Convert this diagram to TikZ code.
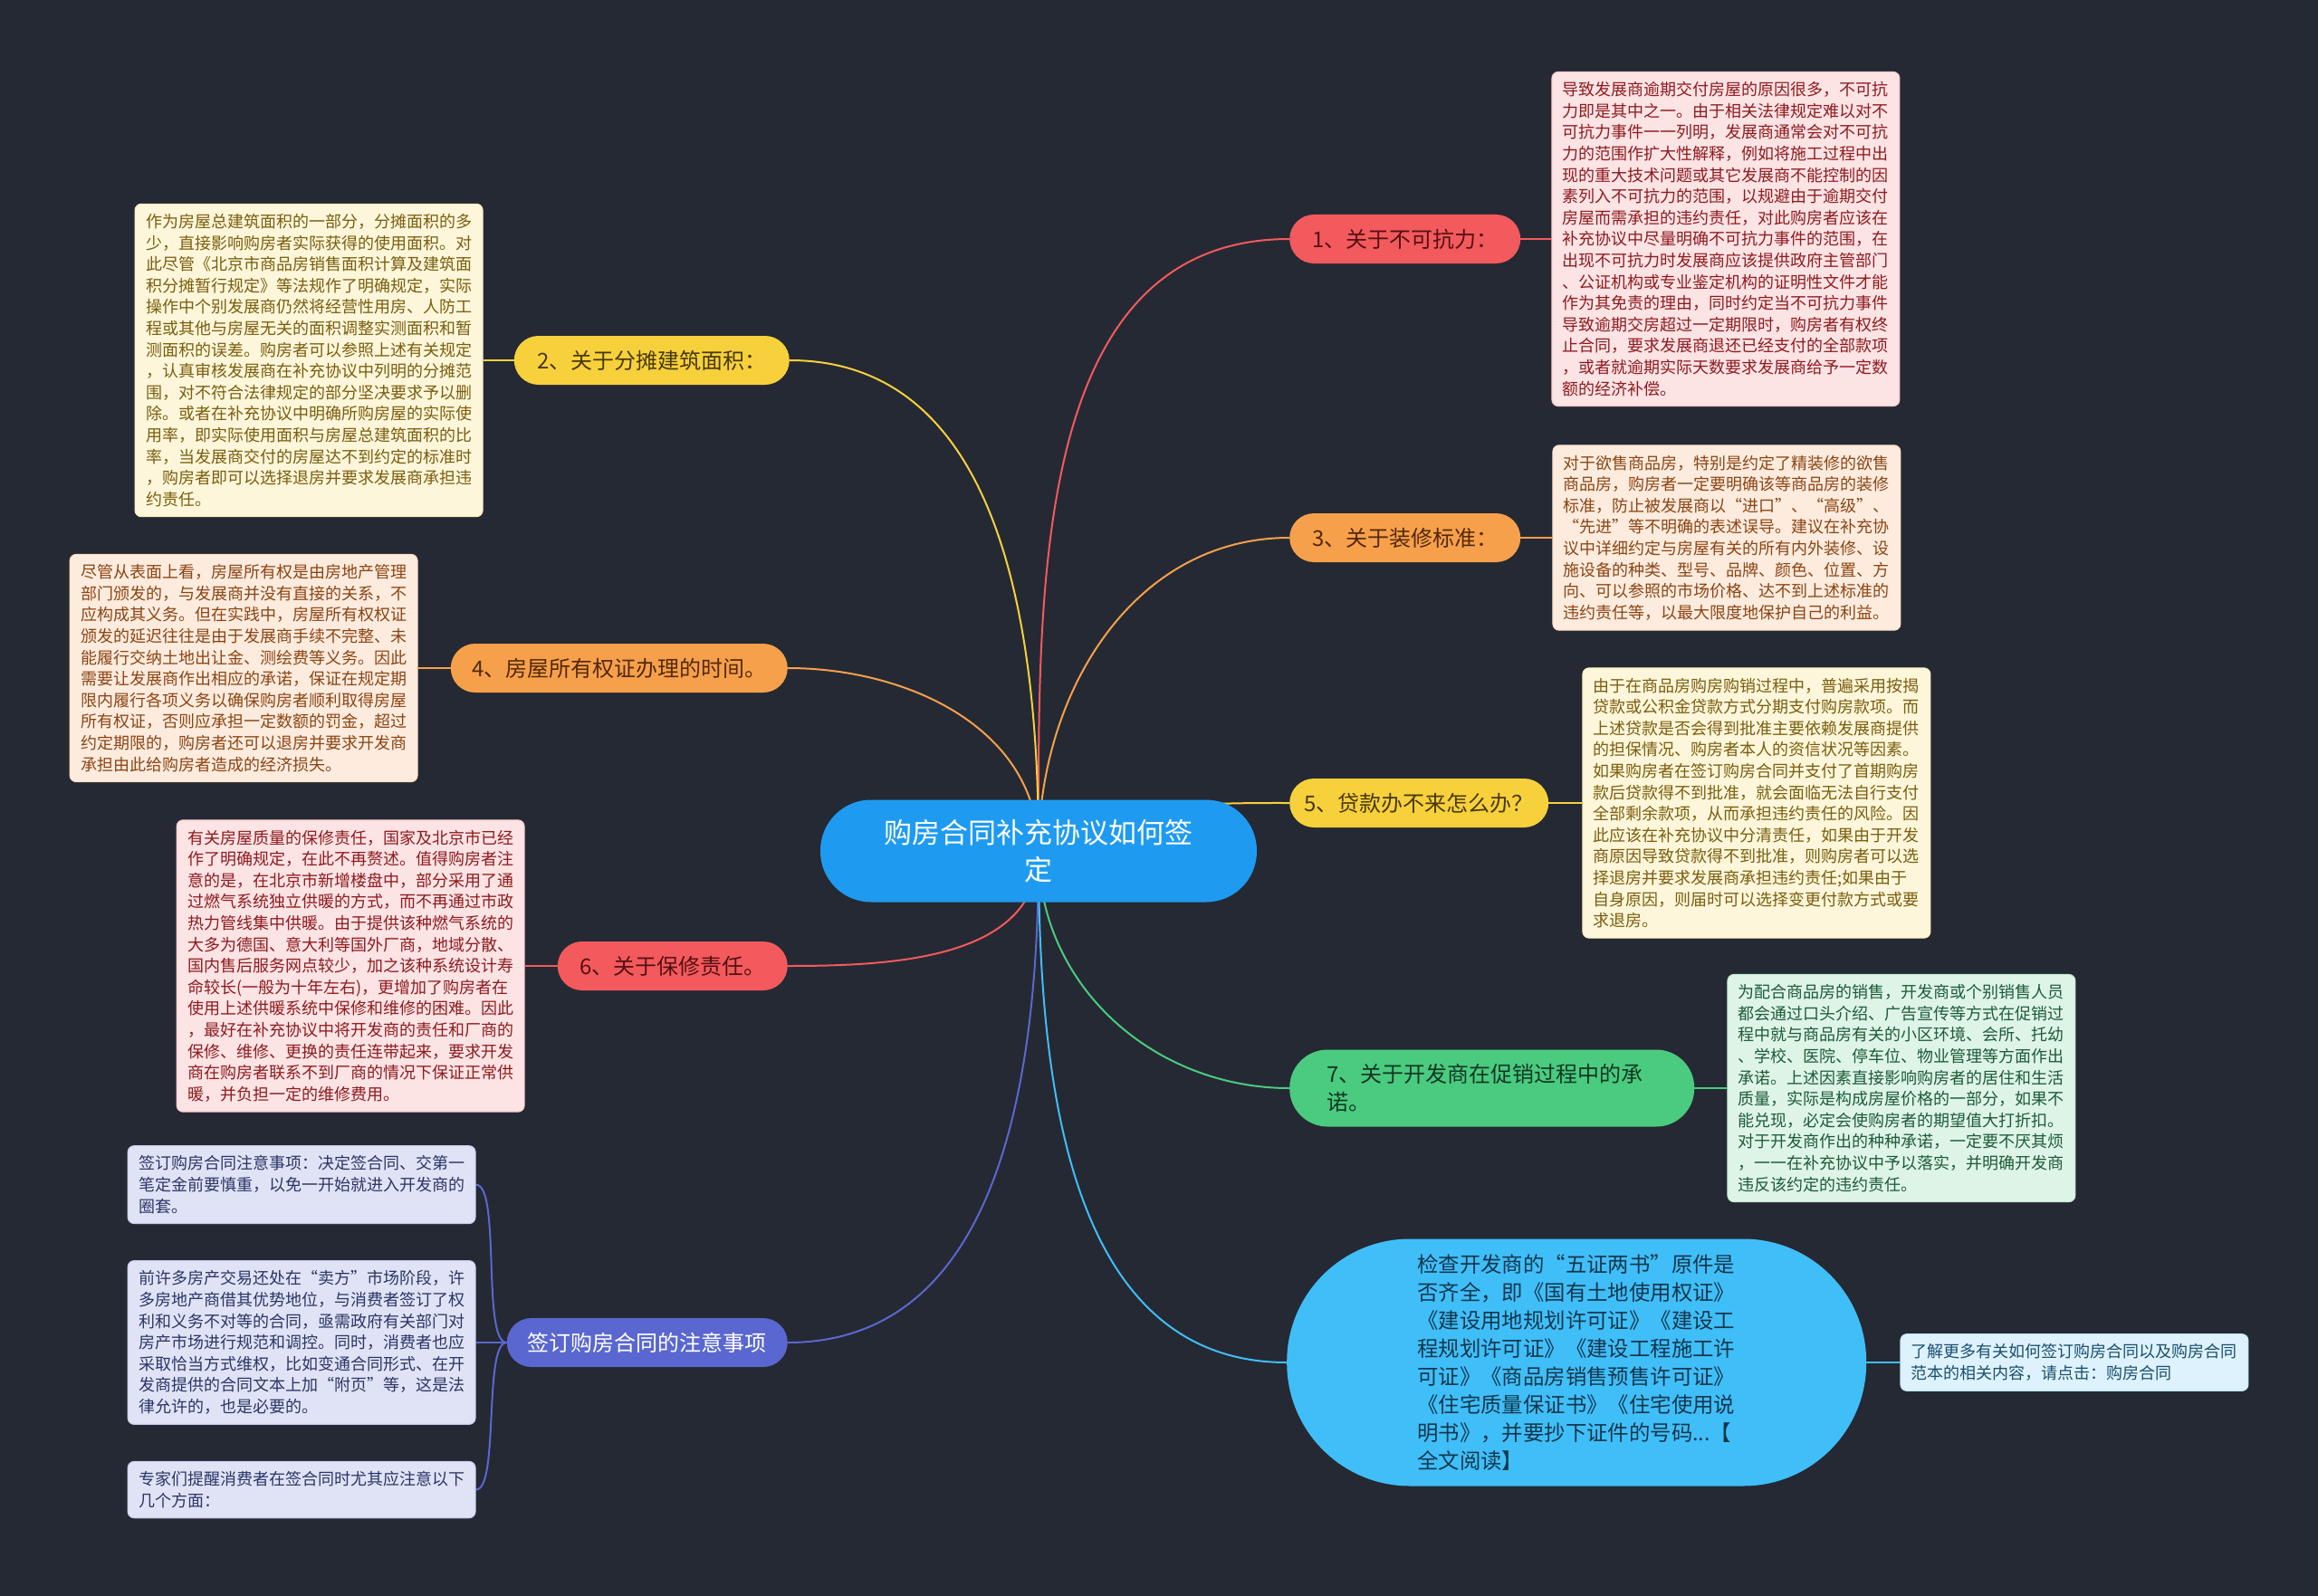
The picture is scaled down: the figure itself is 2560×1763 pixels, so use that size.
\documentclass[tikz,border=0pt]{standalone}
\usepackage{fontspec}
\setmainfont{Noto Sans CJK SC}
\usetikzlibrary{positioning,backgrounds}

\definecolor{bgdark}{HTML}{252933}
\definecolor{topiccol}{HTML}{1E9BF0}
\definecolor{redcol}{HTML}{F35A5D}
\definecolor{yellowcol}{HTML}{F7D13C}
\definecolor{orangecol}{HTML}{F7A04C}
\definecolor{greencol}{HTML}{4ACB80}
\definecolor{indigocol}{HTML}{5A67D0}
\definecolor{skycol}{HTML}{40BEF8}
\definecolor{redleaf}{HTML}{FCE3E4}
\definecolor{redink}{HTML}{8E1B1F}
\definecolor{yellowleaf}{HTML}{FDF6DA}
\definecolor{yellowink}{HTML}{7A5E0F}
\definecolor{orangeleaf}{HTML}{FDEBDE}
\definecolor{orangeink}{HTML}{8B4513}
\definecolor{greenleaf}{HTML}{DDF4E6}
\definecolor{greenink}{HTML}{1E5B38}
\definecolor{indigoleaf}{HTML}{DFE3F5}
\definecolor{indigoink}{HTML}{2C3566}
\definecolor{skyleaf}{HTML}{DDF2FC}
\definecolor{skyink}{HTML}{1B4F6E}

\begin{document}
\begin{tikzpicture}[
  x=1pt, y=-1pt,
  node distance=34pt,
  topic/.style={
    rounded corners=56pt,
    fill=topiccol,
    text=white,
    align=center,
    minimum width=482pt,
    minimum height=113pt,
    font=\fontsize{31}{41}\selectfont
  },
  branch/.style={
    rounded corners=27pt,
    minimum height=54pt,
    inner xsep=8pt,
    align=center,
    font=\fontsize{24}{31}\selectfont
  },
  leaf/.style={
    rounded corners=7pt,
    line width=1pt,
    inner xsep=12pt,
    inner ysep=11pt,
    text width=360pt,
    align=left,
    font=\fontsize{18}{23.6}\selectfont
  },
  link/.style={line width=2pt}
]
  \useasboundingbox (0,0) rectangle (2560,1763);

  \node[topic] (root) at (1147,940) {购房合同补充协议如何签\\定};

  % branches
  \node[branch, anchor=west, fill=redcol, text=redink!60!black, minimum width=255pt] (force) at (1424,264) {1、关于不可抗力：};
  \node[branch, anchor=east, fill=yellowcol, text=yellowink!60!black, minimum width=304pt] (area) at (872,398) {2、关于分摊建筑面积：};
  \node[branch, anchor=west, fill=orangecol, text=orangeink!60!black, minimum width=255pt] (decor) at (1424,594) {3、关于装修标准：};
  \node[branch, anchor=east, fill=orangecol, text=orangeink!60!black, minimum width=372pt] (deed) at (870,738) {4、房屋所有权证办理的时间。};
  \node[branch, anchor=west, fill=yellowcol, text=yellowink!60!black, minimum width=286pt] (loan) at (1424,887) {5、贷款办不来怎么办？};
  \node[branch, anchor=east, fill=redcol, text=redink!60!black, minimum width=254pt] (repair) at (870,1067) {6、关于保修责任。};
  \node[branch, anchor=west, fill=greencol, text=greenink!60!black, rounded corners=42pt,
        minimum width=447pt, minimum height=85pt, inner xsep=41pt, text width=365pt, align=left] (promise) at (1424,1202) {7、关于开发商在促销过程中的承\\诺。};
  \node[branch, anchor=east, fill=indigocol, text=white, minimum width=310pt] (sign) at (870,1483) {签订购房合同的注意事项};
  \node[branch, anchor=west, fill=skycol, text=skyink!70!black, rounded corners=136pt,
        minimum width=640pt, minimum height=273pt, text width=352pt, align=left,
        font=\fontsize{23.4}{31}\selectfont] (check) at (1421,1505) {检查开发商的“五证两书”原件是\\否齐全，即《国有土地使用权证》\\《建设用地规划许可证》《建设工\\程规划许可证》《建设工程施工许\\可证》《商品房销售预售许可证》\\《住宅质量保证书》《住宅使用说\\明书》，并要抄下证件的号码...【\\全文阅读】};

  % leaves
  \node[leaf, right=of force, fill=redleaf, text=redink, draw=redcol!35] (forcetxt) {导致发展商逾期交付房屋的原因很多，不可抗\\力即是其中之一。由于相关法律规定难以对不\\可抗力事件一一列明，发展商通常会对不可抗\\力的范围作扩大性解释，例如将施工过程中出\\现的重大技术问题或其它发展商不能控制的因\\素列入不可抗力的范围，以规避由于逾期交付\\房屋而需承担的违约责任，对此购房者应该在\\补充协议中尽量明确不可抗力事件的范围，在\\出现不可抗力时发展商应该提供政府主管部门\\、公证机构或专业鉴定机构的证明性文件才能\\作为其免责的理由，同时约定当不可抗力事件\\导致逾期交房超过一定期限时，购房者有权终\\止合同，要求发展商退还已经支付的全部款项\\，或者就逾期实际天数要求发展商给予一定数\\额的经济补偿。};
  \node[leaf, left=of area, fill=yellowleaf, text=yellowink, draw=yellowcol!35] (areatxt) {作为房屋总建筑面积的一部分，分摊面积的多\\少，直接影响购房者实际获得的使用面积。对\\此尽管《北京市商品房销售面积计算及建筑面\\积分摊暂行规定》等法规作了明确规定，实际\\操作中个别发展商仍然将经营性用房、人防工\\程或其他与房屋无关的面积调整实测面积和暂\\测面积的误差。购房者可以参照上述有关规定\\，认真审核发展商在补充协议中列明的分摊范\\围，对不符合法律规定的部分坚决要求予以删\\除。或者在补充协议中明确所购房屋的实际使\\用率，即实际使用面积与房屋总建筑面积的比\\率，当发展商交付的房屋达不到约定的标准时\\，购房者即可以选择退房并要求发展商承担违\\约责任。};
  \node[leaf, right=35pt of decor, fill=orangeleaf, text=orangeink, draw=orangecol!35] (decortxt) {对于欲售商品房，特别是约定了精装修的欲售\\商品房，购房者一定要明确该等商品房的装修\\标准，防止被发展商以“进口”、“高级”、\\“先进”等不明确的表述误导。建议在补充协\\议中详细约定与房屋有关的所有内外装修、设\\施设备的种类、型号、品牌、颜色、位置、方\\向、可以参照的市场价格、达不到上述标准的\\违约责任等，以最大限度地保护自己的利益。};
  \node[leaf, left=36pt of deed, fill=orangeleaf, text=orangeink, draw=orangecol!35] (deedtxt) {尽管从表面上看，房屋所有权是由房地产管理\\部门颁发的，与发展商并没有直接的关系，不\\应构成其义务。但在实践中，房屋所有权权证\\颁发的延迟往往是由于发展商手续不完整、未\\能履行交纳土地出让金、测绘费等义务。因此\\需要让发展商作出相应的承诺，保证在规定期\\限内履行各项义务以确保购房者顺利取得房屋\\所有权证，否则应承担一定数额的罚金，超过\\约定期限的，购房者还可以退房并要求开发商\\承担由此给购房者造成的经济损失。};
  \node[leaf, right=37pt of loan, fill=yellowleaf, text=yellowink, draw=yellowcol!35] (loantxt) {由于在商品房购房购销过程中，普遍采用按揭\\贷款或公积金贷款方式分期支付购房款项。而\\上述贷款是否会得到批准主要依赖发展商提供\\的担保情况、购房者本人的资信状况等因素。\\如果购房者在签订购房合同并支付了首期购房\\款后贷款得不到批准，就会面临无法自行支付\\全部剩余款项，从而承担违约责任的风险。因\\此应该在补充协议中分清责任，如果由于开发\\商原因导致贷款得不到批准，则购房者可以选\\择退房并要求发展商承担违约责任;如果由于\\自身原因，则届时可以选择变更付款方式或要\\求退房。};
  \node[leaf, left=36pt of repair, fill=redleaf, text=redink, draw=redcol!35] (repairtxt) {有关房屋质量的保修责任，国家及北京市已经\\作了明确规定，在此不再赘述。值得购房者注\\意的是，在北京市新增楼盘中，部分采用了通\\过燃气系统独立供暖的方式，而不再通过市政\\热力管线集中供暖。由于提供该种燃气系统的\\大多为德国、意大利等国外厂商，地域分散、\\国内售后服务网点较少，加之该种系统设计寿\\命较长(一般为十年左右)，更增加了购房者在\\使用上述供暖系统中保修和维修的困难。因此\\，最好在补充协议中将开发商的责任和厂商的\\保修、维修、更换的责任连带起来，要求开发\\商在购房者联系不到厂商的情况下保证正常供\\暖，并负担一定的维修费用。};
  \node[leaf, right=36pt of promise, fill=greenleaf, text=greenink, draw=greencol!35] (promisetxt) {为配合商品房的销售，开发商或个别销售人员\\都会通过口头介绍、广告宣传等方式在促销过\\程中就与商品房有关的小区环境、会所、托幼\\、学校、医院、停车位、物业管理等方面作出\\承诺。上述因素直接影响购房者的居住和生活\\质量，实际是构成房屋价格的一部分，如果不\\能兑现，必定会使购房者的期望值大打折扣。\\对于开发商作出的种种承诺，一定要不厌其烦\\，一一在补充协议中予以落实，并明确开发商\\违反该约定的违约责任。};
  \node[leaf, left=of sign, fill=indigoleaf, text=indigoink, draw=indigocol!35] (signmid) {前许多房产交易还处在“卖方”市场阶段，许\\多房地产商借其优势地位，与消费者签订了权\\利和义务不对等的合同，亟需政府有关部门对\\房产市场进行规范和调控。同时，消费者也应\\采取恰当方式维权，比如变通合同形式、在开\\发商提供的合同文本上加“附页”等，这是法\\律允许的，也是必要的。};
  \node[leaf, above=40pt of signmid, fill=indigoleaf, text=indigoink, draw=indigocol!35] (signtop) {签订购房合同注意事项：决定签合同、交第一\\笔定金前要慎重，以免一开始就进入开发商的\\圈套。};
  \node[leaf, below=40pt of signmid, fill=indigoleaf, text=indigoink, draw=indigocol!35] (signlow) {专家们提醒消费者在签合同时尤其应注意以下\\几个方面：};
  \node[leaf, right=37pt of check, fill=skyleaf, text=skyink, draw=skycol!35] (checktxt) {了解更多有关如何签订购房合同以及购房合同\\范本的相关内容，请点击：购房合同};

  \begin{scope}[on background layer]
    \fill[bgdark] (0,0) rectangle (2560,1763);
    % root to branches
    \draw[link, redcol] (root.center) to[out=90, in=180] (force.west);
    \draw[link, yellowcol] (root.center) to[out=90, in=0] (area.east);
    \draw[link, orangecol] (root.center) to[out=90, in=180] (decor.west);
    \draw[link, orangecol] (root.center) to[out=90, in=0] (deed.east);
    \draw[link, yellowcol] (root.center) to[out=90, in=180, looseness=0.5] (loan.west);
    \draw[link, redcol] (root.center) to[out=-90, in=0] (repair.east);
    \draw[link, greencol] (root.center) to[out=-90, in=180] (promise.west);
    \draw[link, indigocol] (root.center) to[out=-90, in=0] (sign.east);
    \draw[link, skycol] (root.center) to[out=-90, in=180] (check.west);
    % branches to leaves
    \draw[link, redcol] (force) -- (forcetxt);
    \draw[link, yellowcol] (area) -- (areatxt);
    \draw[link, orangecol] (decor) -- (decortxt);
    \draw[link, orangecol] (deed) -- (deedtxt);
    \draw[link, yellowcol] (loan) -- (loantxt);
    \draw[link, redcol] (repair) -- (repairtxt);
    \draw[link, greencol] (promise) -- (promisetxt);
    \draw[link, skycol] (check) -- (checktxt);
    \draw[link, indigocol] (sign.west) to[out=180, in=0, looseness=0.4] (signtop.east);
    \draw[link, indigocol] (sign.west) to[out=180, in=0, looseness=0.4] (signmid.east);
    \draw[link, indigocol] (sign.west) to[out=180, in=0, looseness=0.4] (signlow.east);
  \end{scope}
\end{tikzpicture}
\end{document}
